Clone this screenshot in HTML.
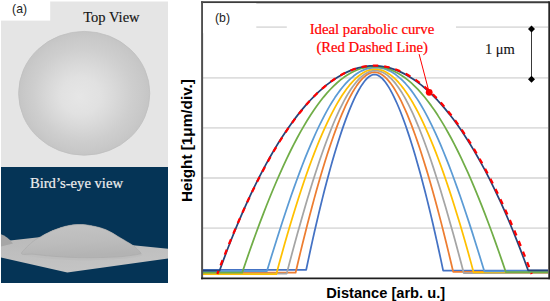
<!DOCTYPE html>
<html><head><meta charset="utf-8"><style>
html,body{margin:0;padding:0;background:#fff;}
body{width:550px;height:301px;overflow:hidden;}
svg{display:block;}
.sans{font-family:"Liberation Sans",sans-serif;}
.serif{font-family:"Liberation Serif",serif;}
</style></head><body>
<svg width="550" height="301" viewBox="0 0 550 301">
<defs>
<radialGradient id="lens" cx="0.5" cy="0.5" r="0.5" fx="0.46" fy="0.53">
<stop offset="0" stop-color="#e6e6e6"/>
<stop offset="0.3" stop-color="#e1e1e1"/>
<stop offset="0.5" stop-color="#d9d9d9"/>
<stop offset="0.75" stop-color="#cecece"/>
<stop offset="0.9" stop-color="#c9c9c9"/>
<stop offset="1" stop-color="#c5c5c5"/>
</radialGradient>
<linearGradient id="dome" x1="0" y1="0" x2="0.2" y2="1">
<stop offset="0" stop-color="#c4c4c4"/>
<stop offset="0.6" stop-color="#bcbcbc"/>
<stop offset="1" stop-color="#b3b3b3"/>
</linearGradient>
<linearGradient id="plane" x1="0" y1="0" x2="0.3" y2="1">
<stop offset="0" stop-color="#bababa"/>
<stop offset="1" stop-color="#c4c4c4"/>
</linearGradient>
</defs>
<!-- panel a top -->
<rect x="1" y="1.5" width="167" height="166" fill="#e5e5e5"/>
<ellipse cx="84.2" cy="93.3" rx="65.6" ry="61.9" fill="url(#lens)" stroke="#bfbfbf" stroke-width="0.8"/>
<rect x="0" y="0" width="50.2" height="20.6" fill="#fff"/>
<text x="12.1" y="12.6" class="sans" font-size="12.2" fill="#222">(a)</text>
<text x="83.2" y="21.7" class="serif" font-size="14.55" fill="#151515" stroke="#151515" stroke-width="0.15">Top View</text>
<!-- panel a bottom -->
<rect x="1" y="167" width="167" height="116" fill="#053456"/>
<text x="29.9" y="188.1" class="serif" font-size="14.65" fill="#eeeeee" stroke="#eeeeee" stroke-width="0.2">Bird’s-eye view</text>
<polygon points="1,241.4 45.7,236.5 168,248.7 168,258.4 67.3,272.6 1,257.6" fill="url(#plane)"/>
<path d="M1,234.2 C5,235.2 9,238.5 13,243.4 L1,246.5 Z" fill="#a6a6a6"/>
<path d="M21.80,254.00 C20.47,252.67 23.48,250.58 25.00,248.80 C26.52,247.02 29.15,244.83 30.90,243.30 C32.65,241.77 33.77,240.75 35.50,239.60 C37.23,238.45 38.88,237.70 41.30,236.40 C43.72,235.10 46.73,233.27 50.00,231.80 C53.27,230.33 57.73,228.65 60.90,227.60 C64.07,226.55 66.27,226.00 69.00,225.50 C71.73,225.00 74.63,224.73 77.30,224.60 C79.97,224.47 82.28,224.43 85.00,224.70 C87.72,224.97 91.10,225.70 93.60,226.20 C96.10,226.70 97.93,227.10 100.00,227.70 C102.07,228.30 104.00,228.95 106.00,229.80 C108.00,230.65 110.02,231.70 112.00,232.80 C113.98,233.90 115.92,235.22 117.90,236.40 C119.88,237.58 121.90,238.72 123.90,239.90 C125.90,241.08 128.30,242.52 129.90,243.50 C131.50,244.48 132.30,244.90 133.50,245.80 C134.70,246.70 135.97,247.82 137.10,248.90 C138.23,249.98 139.45,251.25 140.30,252.30 C141.15,253.35 142.92,254.42 142.20,255.20 C141.48,255.98 139.37,256.40 136.00,257.00 C132.63,257.60 126.63,258.37 122.00,258.80 C117.37,259.23 113.20,259.37 108.20,259.60 C103.20,259.83 97.15,260.08 92.00,260.20 C86.85,260.32 82.30,260.40 77.30,260.30 C72.30,260.20 67.15,259.90 62.00,259.60 C56.85,259.30 51.23,258.97 46.40,258.50 C41.57,258.03 37.10,257.55 33.00,256.80 C28.90,256.05 23.13,255.33 21.80,254.00 Z" fill="#bdbdbd"/><path d="M21.80,254.00 C20.47,253.10 23.48,250.58 25.00,248.80 C26.52,247.02 29.15,244.83 30.90,243.30 C32.65,241.77 33.77,240.75 35.50,239.60 C37.23,238.45 38.88,237.70 41.30,236.40 C43.72,235.10 46.73,233.27 50.00,231.80 C53.27,230.33 57.73,228.65 60.90,227.60 C64.07,226.55 66.27,226.00 69.00,225.50 C71.73,225.00 74.63,224.73 77.30,224.60 C79.97,224.47 82.28,224.43 85.00,224.70 C87.72,224.97 91.10,225.70 93.60,226.20 C96.10,226.70 97.93,227.10 100.00,227.70 C102.07,228.30 104.00,228.95 106.00,229.80 C108.00,230.65 110.02,231.70 112.00,232.80 C113.98,233.90 115.92,235.22 117.90,236.40 C119.88,237.58 121.90,238.72 123.90,239.90 C125.90,241.08 128.30,242.52 129.90,243.50 C131.50,244.48 132.30,244.90 133.50,245.80 C134.70,246.70 135.97,247.82 137.10,248.90 C138.23,249.98 139.65,251.52 140.30,252.30 C140.95,253.08 141.63,253.22 141.00,253.60 C140.37,253.98 139.67,254.10 136.50,254.60 C133.33,255.10 126.72,256.15 122.00,256.60 C117.28,257.05 113.20,257.12 108.20,257.30 C103.20,257.48 97.15,257.65 92.00,257.70 C86.85,257.75 82.30,257.73 77.30,257.60 C72.30,257.47 67.15,257.22 62.00,256.90 C56.85,256.58 51.23,256.15 46.40,255.70 C41.57,255.25 37.10,254.48 33.00,254.20 C28.90,253.92 23.13,254.90 21.80,254.00 Z" fill="url(#dome)" stroke="#a9a9a9" stroke-width="0.6"/>
<!-- chart -->
<rect x="202" y="2.2" width="346.8" height="276.1" fill="#fff"/>
<line x1="203" x2="548" y1="27.2" y2="27.2" stroke="#DEDEDE" stroke-width="1.8"/><line x1="203" x2="548" y1="77.8" y2="77.8" stroke="#DEDEDE" stroke-width="1.8"/><line x1="203" x2="548" y1="127.9" y2="127.9" stroke="#DEDEDE" stroke-width="1.8"/><line x1="203" x2="548" y1="178.0" y2="178.0" stroke="#DEDEDE" stroke-width="1.8"/><line x1="203" x2="548" y1="228.2" y2="228.2" stroke="#DEDEDE" stroke-width="1.8"/>
<path d="M203.00,269.80 L306.21,269.80 L308.29,259.91 L310.36,250.28 L312.42,240.91 L314.47,231.79 L316.51,222.93 L318.54,214.33 L320.55,205.98 L322.55,197.89 L324.53,190.06 L326.50,182.49 L328.46,175.17 L330.40,168.11 L332.32,161.30 L334.23,154.75 L336.11,148.46 L337.98,142.42 L339.83,136.65 L341.66,131.13 L343.47,125.86 L345.26,120.85 L347.03,116.10 L348.78,111.61 L350.51,107.37 L352.21,103.39 L353.89,99.67 L355.54,96.20 L357.17,92.99 L358.78,90.04 L360.36,87.34 L361.91,84.90 L363.44,82.72 L364.93,80.79 L366.40,79.12 L367.84,77.71 L369.26,76.55 L370.64,75.66 L371.99,75.01 L373.31,74.63 L374.60,74.50 L375.89,74.63 L377.22,75.02 L378.57,75.66 L379.95,76.56 L381.37,77.72 L382.81,79.14 L384.29,80.82 L385.79,82.75 L387.32,84.94 L388.88,87.39 L390.46,90.10 L392.07,93.07 L393.70,96.29 L395.36,99.77 L397.04,103.51 L398.75,107.51 L400.48,111.76 L402.23,116.27 L404.00,121.04 L405.80,126.07 L407.61,131.36 L409.45,136.90 L411.31,142.70 L413.18,148.76 L415.07,155.08 L416.98,161.66 L418.91,168.49 L420.85,175.58 L422.81,182.93 L424.79,190.54 L426.78,198.40 L428.78,206.52 L430.80,214.90 L432.83,223.54 L434.87,232.44 L436.93,241.59 L438.99,251.00 L441.07,260.67 L443.16,270.60 L548.00,270.60" stroke="#4472C4" stroke-width="1.75" fill="none" stroke-linejoin="round"/><path d="M203.00,272.70 L295.60,272.70 L297.99,262.55 L300.36,252.66 L302.71,243.04 L305.04,233.68 L307.35,224.59 L309.64,215.75 L311.90,207.18 L314.15,198.88 L316.38,190.84 L318.59,183.06 L320.77,175.55 L322.94,168.30 L325.09,161.31 L327.22,154.59 L329.33,148.13 L331.42,141.93 L333.49,136.00 L335.54,130.33 L337.58,124.93 L339.59,119.79 L341.59,114.91 L343.57,110.30 L345.53,105.95 L347.47,101.86 L349.39,98.04 L351.30,94.48 L353.19,91.18 L355.06,88.15 L356.91,85.38 L358.74,82.88 L360.56,80.64 L362.36,78.66 L364.15,76.95 L365.91,75.50 L367.66,74.31 L369.40,73.39 L371.11,72.73 L372.82,72.33 L374.50,72.20 L376.18,72.33 L377.88,72.72 L379.59,73.38 L381.32,74.30 L383.07,75.48 L384.83,76.92 L386.61,78.63 L388.41,80.60 L390.22,82.83 L392.05,85.32 L393.90,88.08 L395.76,91.10 L397.65,94.38 L399.55,97.92 L401.47,101.73 L403.40,105.79 L405.36,110.13 L407.33,114.72 L409.32,119.57 L411.33,124.69 L413.36,130.07 L415.41,135.72 L417.47,141.62 L419.56,147.79 L421.66,154.22 L423.78,160.91 L425.93,167.87 L428.09,175.08 L430.27,182.56 L432.47,190.31 L434.69,198.31 L436.93,206.58 L439.20,215.11 L441.48,223.90 L443.78,232.96 L446.10,242.27 L448.44,251.85 L450.81,261.70 L453.19,271.80 L548.00,271.80" stroke="#ED7D31" stroke-width="1.75" fill="none" stroke-linejoin="round"/><path d="M203.00,273.60 L286.70,273.60 L289.40,263.32 L292.07,253.31 L294.71,243.57 L297.32,234.09 L299.90,224.89 L302.45,215.94 L304.97,207.27 L307.46,198.86 L309.92,190.72 L312.36,182.84 L314.77,175.24 L317.15,167.90 L319.52,160.82 L321.86,154.02 L324.17,147.48 L326.47,141.20 L328.74,135.20 L331.00,129.46 L333.24,123.99 L335.45,118.78 L337.65,113.84 L339.84,109.17 L342.01,104.77 L344.16,100.63 L346.30,96.76 L348.43,93.16 L350.55,89.82 L352.65,86.75 L354.75,83.95 L356.83,81.41 L358.91,79.14 L360.98,77.14 L363.04,75.40 L365.09,73.94 L367.14,72.74 L369.18,71.80 L371.23,71.13 L373.26,70.73 L375.30,70.60 L377.33,70.73 L379.37,71.13 L381.41,71.80 L383.45,72.73 L385.49,73.93 L387.55,75.39 L389.60,77.12 L391.67,79.12 L393.74,81.38 L395.82,83.91 L397.91,86.70 L400.01,89.76 L402.13,93.09 L404.25,96.68 L406.39,100.54 L408.54,104.67 L410.71,109.06 L412.89,113.71 L415.08,118.64 L417.30,123.83 L419.53,129.28 L421.78,135.01 L424.05,140.99 L426.35,147.25 L428.66,153.77 L430.99,160.56 L433.35,167.61 L435.73,174.93 L438.14,182.51 L440.57,190.36 L443.03,198.48 L445.52,206.86 L448.03,215.51 L450.57,224.43 L453.14,233.61 L455.75,243.06 L458.38,252.77 L461.05,262.75 L463.75,273.00 L548.00,273.00" stroke="#A5A5A5" stroke-width="1.75" fill="none" stroke-linejoin="round"/><path d="M203.00,274.20 L276.30,274.20 L279.10,263.82 L281.89,253.70 L284.67,243.86 L287.43,234.29 L290.17,224.98 L292.90,215.95 L295.62,207.18 L298.31,198.69 L301.00,190.46 L303.67,182.51 L306.32,174.82 L308.96,167.40 L311.59,160.26 L314.20,153.38 L316.80,146.77 L319.38,140.43 L321.95,134.37 L324.51,128.57 L327.05,123.04 L329.58,117.78 L332.10,112.79 L334.60,108.07 L337.09,103.62 L339.56,99.44 L342.02,95.53 L344.47,91.89 L346.91,88.52 L349.34,85.42 L351.75,82.58 L354.15,80.02 L356.53,77.73 L358.91,75.71 L361.27,73.95 L363.62,72.47 L365.96,71.26 L368.29,70.31 L370.60,69.64 L372.91,69.23 L375.20,69.10 L377.48,69.23 L379.78,69.63 L382.08,70.30 L384.40,71.24 L386.73,72.44 L389.07,73.91 L391.42,75.65 L393.78,77.65 L396.16,79.93 L398.55,82.47 L400.95,85.27 L403.36,88.35 L405.79,91.69 L408.22,95.30 L410.68,99.17 L413.14,103.32 L415.62,107.73 L418.11,112.41 L420.61,117.35 L423.13,122.56 L425.65,128.04 L428.20,133.79 L430.76,139.81 L433.33,146.09 L435.91,152.64 L438.51,159.46 L441.12,166.54 L443.75,173.89 L446.39,181.51 L449.05,189.40 L451.72,197.55 L454.40,205.97 L457.10,214.66 L459.82,223.61 L462.55,232.84 L465.29,242.33 L468.05,252.08 L470.83,262.11 L473.62,272.40 L548.00,272.40" stroke="#FFC000" stroke-width="1.75" fill="none" stroke-linejoin="round"/><path d="M203.00,271.00 L266.97,271.00 L270.10,260.70 L273.20,250.66 L276.26,240.90 L279.28,231.40 L282.27,222.17 L285.23,213.20 L288.16,204.50 L291.06,196.08 L293.93,187.91 L296.78,180.02 L299.61,172.39 L302.41,165.04 L305.19,157.94 L307.96,151.12 L310.71,144.57 L313.44,138.28 L316.15,132.26 L318.86,126.50 L321.55,121.02 L324.24,115.80 L326.91,110.85 L329.59,106.17 L332.25,101.75 L334.92,97.60 L337.58,93.72 L340.24,90.11 L342.90,86.77 L345.57,83.69 L348.24,80.88 L350.92,78.34 L353.61,76.06 L356.31,74.06 L359.02,72.32 L361.74,70.84 L364.48,69.64 L367.23,68.70 L370.00,68.04 L372.79,67.63 L375.60,67.50 L378.41,67.63 L381.20,68.04 L383.98,68.71 L386.73,69.64 L389.47,70.85 L392.19,72.32 L394.90,74.07 L397.60,76.08 L400.29,78.35 L402.98,80.90 L405.65,83.71 L408.32,86.79 L410.99,90.14 L413.65,93.76 L416.31,97.65 L418.98,101.80 L421.65,106.22 L424.32,110.91 L427.00,115.87 L429.69,121.10 L432.38,126.59 L435.09,132.35 L437.81,138.38 L440.54,144.68 L443.29,151.24 L446.06,158.08 L448.84,165.18 L451.65,172.55 L454.48,180.19 L457.33,188.09 L460.21,196.27 L463.11,204.71 L466.04,213.42 L469.00,222.39 L472.00,231.64 L475.02,241.15 L478.09,250.93 L481.18,260.98 L484.32,271.30 L548.00,271.30" stroke="#5B9BD5" stroke-width="1.75" fill="none" stroke-linejoin="round"/><path d="M203.00,272.60 L242.20,272.60 L245.74,262.17 L249.27,252.01 L252.78,242.13 L256.27,232.51 L259.74,223.17 L263.19,214.09 L266.63,205.29 L270.05,196.76 L273.46,188.49 L276.86,180.50 L280.24,172.78 L283.61,165.33 L286.98,158.16 L290.33,151.25 L293.67,144.61 L297.01,138.25 L300.34,132.15 L303.67,126.33 L306.99,120.77 L310.31,115.49 L313.63,110.48 L316.94,105.74 L320.26,101.27 L323.57,97.07 L326.89,93.15 L330.21,89.49 L333.54,86.10 L336.87,82.99 L340.20,80.14 L343.55,77.57 L346.90,75.27 L350.26,73.24 L353.62,71.48 L357.00,69.99 L360.40,68.77 L363.80,67.82 L367.22,67.14 L370.65,66.74 L374.10,66.60 L377.54,66.74 L380.97,67.14 L384.38,67.82 L387.78,68.76 L391.17,69.98 L394.55,71.46 L397.91,73.22 L401.26,75.24 L404.61,77.54 L407.95,80.10 L411.28,82.94 L414.60,86.05 L417.92,89.42 L421.24,93.07 L424.55,96.98 L427.87,101.17 L431.18,105.63 L434.49,110.35 L437.80,115.35 L441.11,120.62 L444.43,126.15 L447.75,131.96 L451.08,138.04 L454.41,144.38 L457.75,151.00 L461.10,157.89 L464.45,165.05 L467.82,172.47 L471.20,180.17 L474.59,188.14 L477.99,196.38 L481.41,204.88 L484.84,213.66 L488.29,222.71 L491.75,232.03 L495.24,241.62 L498.74,251.47 L502.26,261.60 L505.80,272.00 L548.00,272.00" stroke="#70AD47" stroke-width="1.75" fill="none" stroke-linejoin="round"/><path d="M203.00,270.50 L219.62,270.50 L223.40,260.14 L227.21,250.04 L231.03,240.22 L234.88,230.66 L238.74,221.38 L242.62,212.36 L246.52,203.61 L250.43,195.13 L254.36,186.92 L258.30,178.98 L262.25,171.31 L266.22,163.91 L270.19,156.78 L274.18,149.91 L278.17,143.32 L282.17,136.99 L286.18,130.94 L290.19,125.15 L294.20,119.63 L298.22,114.38 L302.25,109.40 L306.27,104.69 L310.29,100.25 L314.32,96.08 L318.34,92.18 L322.36,88.54 L326.37,85.18 L330.38,82.08 L334.39,79.26 L338.38,76.70 L342.37,74.41 L346.36,72.39 L350.33,70.64 L354.29,69.16 L358.24,67.95 L362.18,67.01 L366.10,66.34 L370.01,65.93 L373.90,65.80 L377.79,65.93 L381.70,66.34 L385.62,67.01 L389.55,67.95 L393.50,69.16 L397.46,70.64 L401.43,72.39 L405.41,74.40 L409.40,76.69 L413.40,79.25 L417.40,82.07 L421.41,85.16 L425.42,88.52 L429.44,92.15 L433.46,96.05 L437.48,100.22 L441.50,104.66 L445.52,109.36 L449.54,114.34 L453.56,119.58 L457.57,125.09 L461.58,130.87 L465.59,136.92 L469.58,143.24 L473.57,149.83 L477.56,156.69 L481.53,163.81 L485.49,171.21 L489.44,178.87 L493.38,186.81 L497.31,195.01 L501.22,203.48 L505.11,212.22 L508.99,221.23 L512.85,230.50 L516.70,240.05 L520.52,249.86 L524.33,259.95 L528.11,270.30 L548.00,270.30" stroke="#264478" stroke-width="1.75" fill="none" stroke-linejoin="round"/>
<path d="M217.30,274.00 L219.28,268.79 L221.25,263.65 L223.23,258.57 L225.21,253.56 L227.19,248.61 L229.16,243.73 L231.14,238.92 L233.12,234.17 L235.09,229.49 L237.07,224.87 L239.05,220.32 L241.03,215.83 L243.00,211.42 L244.98,207.06 L246.96,202.78 L248.94,198.56 L250.91,194.40 L252.89,190.31 L254.87,186.29 L256.85,182.33 L258.82,178.44 L260.80,174.62 L262.78,170.86 L264.76,167.17 L266.73,163.54 L268.71,159.98 L270.69,156.48 L272.66,153.05 L274.64,149.69 L276.62,146.39 L278.60,143.16 L280.57,140.00 L282.55,136.90 L284.53,133.86 L286.51,130.90 L288.48,127.99 L290.46,125.16 L292.44,122.39 L294.42,119.68 L296.39,117.05 L298.37,114.47 L300.35,111.97 L302.33,109.53 L304.30,107.15 L306.28,104.85 L308.26,102.60 L310.24,100.43 L312.21,98.32 L314.19,96.27 L316.17,94.30 L318.14,92.38 L320.12,90.54 L322.10,88.76 L324.08,87.04 L326.05,85.39 L328.03,83.81 L330.01,82.29 L331.99,80.84 L333.96,79.46 L335.94,78.14 L337.92,76.89 L339.90,75.70 L341.87,74.58 L343.85,73.52 L345.83,72.53 L347.81,71.61 L349.78,70.75 L351.76,69.96 L353.74,69.24 L355.71,68.58 L357.69,67.98 L359.67,67.45 L361.65,66.99 L363.62,66.60 L365.60,66.27 L367.58,66.00 L369.56,65.81 L371.53,65.67 L373.51,65.61 L375.49,65.61 L377.47,65.67 L379.44,65.81 L381.42,66.00 L383.40,66.27 L385.38,66.60 L387.35,66.99 L389.33,67.45 L391.31,67.98 L393.29,68.58 L395.26,69.24 L397.24,69.96 L399.22,70.75 L401.19,71.61 L403.17,72.53 L405.15,73.52 L407.13,74.58 L409.10,75.70 L411.08,76.89 L413.06,78.14 L415.04,79.46 L417.01,80.84 L418.99,82.29 L420.97,83.81 L422.95,85.39 L424.92,87.04 L426.90,88.76 L428.88,90.54 L430.86,92.38 L432.83,94.30 L434.81,96.27 L436.79,98.32 L438.76,100.43 L440.74,102.60 L442.72,104.85 L444.70,107.15 L446.67,109.53 L448.65,111.97 L450.63,114.47 L452.61,117.05 L454.58,119.68 L456.56,122.39 L458.54,125.16 L460.52,127.99 L462.49,130.90 L464.47,133.86 L466.45,136.90 L468.43,140.00 L470.40,143.16 L472.38,146.39 L474.36,149.69 L476.34,153.05 L478.31,156.48 L480.29,159.98 L482.27,163.54 L484.24,167.17 L486.22,170.86 L488.20,174.62 L490.18,178.44 L492.15,182.33 L494.13,186.29 L496.11,190.31 L498.09,194.40 L500.06,198.56 L502.04,202.78 L504.02,207.06 L506.00,211.42 L507.97,215.83 L509.95,220.32 L511.93,224.87 L513.91,229.49 L515.88,234.17 L517.86,238.92 L519.84,243.73 L521.81,248.61 L523.79,253.56 L525.77,258.57 L527.75,263.65 L529.72,268.79 L531.70,274.00" stroke="#FF0000" stroke-width="2.25" fill="none" stroke-dasharray="5.4 6" stroke-dashoffset="2.1"/>
<line x1="201" y1="2.3" x2="549.2" y2="2.3" stroke="#3c3c3c" stroke-width="2"/><line x1="202.1" y1="1.3" x2="202.1" y2="279.3" stroke="#505050" stroke-width="2"/><line x1="201.1" y1="278.4" x2="550" y2="278.4" stroke="#1e1e1e" stroke-width="1.8"/><line x1="549.2" y1="1.3" x2="549.2" y2="279.3" stroke="#262626" stroke-width="1.8"/>
<rect x="203" y="3.2" width="53.3" height="30" fill="#fff"/>
<text x="215" y="22" class="sans" font-size="12.3" fill="#222">(b)</text>
<rect x="286.8" y="15" width="169.2" height="42" fill="#fff"/>
<text x="309.7" y="34" class="serif" font-size="14.7" fill="#FF0000" stroke="#FF0000" stroke-width="0.22" textLength="124.5" lengthAdjust="spacingAndGlyphs">Ideal parabolic curve</text>
<text x="316.4" y="51.5" class="serif" font-size="14.7" fill="#FF0000" stroke="#FF0000" stroke-width="0.22" textLength="111.6" lengthAdjust="spacingAndGlyphs">(Red Dashed Line)</text>
<line x1="419.1" y1="54.1" x2="429.2" y2="92.5" stroke="#FF0000" stroke-width="1"/>
<circle cx="429.2" cy="92.3" r="3.4" fill="#FF0000"/>
<line x1="531.5" y1="29" x2="531.5" y2="79.3" stroke="#222" stroke-width="0.9"/>
<path d="M531.5,25.5 L535,29 L531.5,32.5 L528,29 Z" fill="#000"/>
<path d="M531.5,75.8 L535,79.3 L531.5,82.8 L528,79.3 Z" fill="#000"/>
<text x="484.9" y="53.9" class="serif" font-size="14.5" fill="#111" stroke="#111" stroke-width="0.12">1 μm</text>
<text transform="translate(191.7,202.1) rotate(-90)" class="sans" font-size="15.3" font-weight="bold" fill="#000">Height [1μm/div.]</text>
<text x="326.3" y="297.7" class="sans" font-size="14.4" font-weight="bold" fill="#000" textLength="118.8" lengthAdjust="spacingAndGlyphs">Distance [arb. u.]</text>
</svg>
</body></html>
